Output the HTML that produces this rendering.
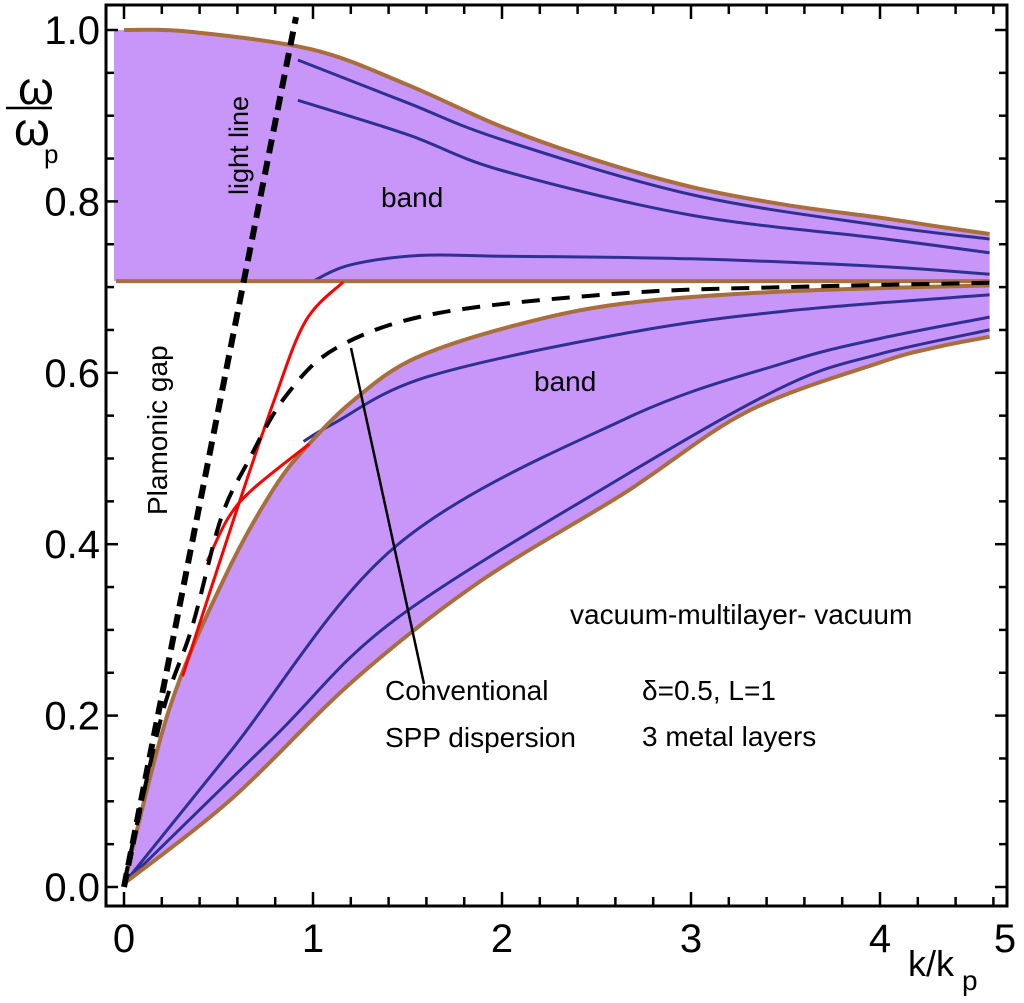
<!DOCTYPE html>
<html><head><meta charset="utf-8"><style>
html,body{margin:0;padding:0;background:#fff;}
svg text{font-family:"Liberation Sans",sans-serif;fill:#000;}
</style></head><body>
<svg id="chart" width="1024" height="998" viewBox="0 0 1024 998" xmlns="http://www.w3.org/2000/svg">
<g id="bands"></g>
<g id="lines"></g>
<g id="axes"></g>
<g>
<line x1="351" y1="348" x2="424" y2="684" stroke="#000" stroke-width="2.5"/>
<text x="381" y="207" font-size="28">band</text>
<text x="534" y="391" font-size="28">band</text>
<text transform="translate(248,195) rotate(-90)" font-size="27">light line</text>
<text transform="translate(167,515) rotate(-90)" font-size="28">Plamonic gap</text>
<text x="385" y="700" font-size="28">Conventional</text>
<text x="385" y="747" font-size="28">SPP dispersion</text>
<text x="570" y="624" font-size="28">vacuum-multilayer- vacuum</text>
<text x="642" y="700" font-size="28">δ=0.5, L=1</text>
<text x="642" y="746" font-size="28">3 metal layers</text>
<text x="18" y="104" font-size="46">ω</text>
<line x1="6" y1="108" x2="52" y2="108" stroke="#000" stroke-width="2.5"/>
<text x="14" y="145" font-size="46">ω</text>
<text x="44" y="163" font-size="26">p</text>
<text x="908" y="976" font-size="36">k/k</text>
<text x="962" y="990" font-size="28">p</text>
</g>
</svg>
<script>
const xTicks=[0,1,2,3,4,5];
const yTicks=[0.0,0.2,0.4,0.6,0.8,1.0];
const upperTopK=[0,0.35,1,1.5,2,2.5,3,3.5,4,4.3,4.58];
const upperTopW=[1.0,0.998,0.977,0.936,0.887,0.848,0.817,0.796,0.781,0.771,0.762];
const upperBottomW=0.707;
const upperLine1K=[0.92,1.5,2,3,4,4.58];
const upperLine1W=[0.965,0.915,0.872,0.808,0.772,0.756];
const upperLine2K=[0.92,1.5,2,3,4,4.58];
const upperLine2W=[0.918,0.878,0.836,0.784,0.757,0.740];
const upperLine3K=[1.0,1.2,1.57,2,3,4,4.58];
const upperLine3W=[0.707,0.726,0.737,0.736,0.733,0.724,0.715];
const lowerTopK=[0,0.24,0.53,0.79,0.98,1.22,1.54,2.08,2.65,3.5,4.58];
const lowerTopW=[0.004,0.208,0.36,0.464,0.517,0.569,0.617,0.656,0.681,0.695,0.702];
const lowerBotK=[0,0.57,1.22,1.88,2.65,3.3,4,4.3,4.58];
const lowerBotW=[0.004,0.103,0.242,0.356,0.46,0.555,0.612,0.630,0.642];
const lowerAK=[0.95,1.11,1.6,2.65,3.5,4.58];
const lowerAW=[0.52,0.541,0.595,0.646,0.672,0.691];
const lowerBK=[0,0.57,1.44,2.65,3.5,4,4.58];
const lowerBW=[0.004,0.16,0.398,0.546,0.612,0.640,0.665];
const lowerCK=[0,0.79,1.44,2.65,3.5,4,4.58];
const lowerCW=[0.004,0.174,0.313,0.48,0.585,0.622,0.650];
const red1K=[0.31,0.57,0.79,0.96,1.16];
const red1W=[0.246,0.422,0.565,0.66,0.706];
const red2K=[0.44,0.55,0.68,0.98];
const red2W=[0.38,0.43,0.464,0.517];
const sppK=[0,0.2,0.36,0.51,0.65,0.86,1.14,1.67,2.65,3.5,4.58];
const sppW=[0.004,0.2,0.303,0.428,0.494,0.574,0.631,0.67,0.693,0.7,0.705];
const lightK=[0,0.91];
const lightW=[0,1.015];

const X=k=>124+k*189;
const Y=w=>887-w*857;
const NS="http://www.w3.org/2000/svg";
function pts(K,W){return K.map((k,i)=>[X(k),Y(W[i])]);}
function spline(p){
  let d="M"+p[0][0].toFixed(1)+","+p[0][1].toFixed(1);
  for(let i=0;i<p.length-1;i++){
    const p0=p[i-1]||p[i],p1=p[i],p2=p[i+1],p3=p[i+2]||p2;
    const c1=[p1[0]+(p2[0]-p0[0])/6,p1[1]+(p2[1]-p0[1])/6];
    const c2=[p2[0]-(p3[0]-p1[0])/6,p2[1]-(p3[1]-p1[1])/6];
    d+=" C"+c1.map(v=>v.toFixed(1))+" "+c2.map(v=>v.toFixed(1))+" "+p2.map(v=>v.toFixed(1));
  }
  return d;
}
function mk(parent,tag,attrs){const e=document.createElementNS(NS,tag);for(const a in attrs)e.setAttribute(a,attrs[a]);parent.appendChild(e);return e;}
const bands=document.getElementById('bands'),lines=document.getElementById('lines'),axes=document.getElementById('axes');

const up=pts(upperTopK,upperTopW);
let dU=spline(up)+" L"+X(upperTopK[upperTopK.length-1])+","+Y(upperBottomW)+" L"+(X(0)-10)+","+Y(upperBottomW)+" L"+(X(0)-10)+","+Y(1.0)+" Z";
const ub=mk(bands,'path',{d:dU,fill:'#c896f8'});


const lt=pts(lowerTopK,lowerTopW), lb=pts(lowerBotK,lowerBotW);
let dL=spline(lt)+" L"+lb[lb.length-1].join(",")+" "+spline(lb.slice().reverse()).replace("M","L")+" Z";
const lbf=mk(bands,'path',{d:dL,fill:'#c896f8'});



function curve(K,W,color,width,name,dash){
  const e=mk(lines,'path',{d:spline(pts(K,W)),fill:'none',stroke:color,'stroke-width':width,'stroke-linecap':'butt'});
  if(dash)e.setAttribute('stroke-dasharray',dash);
  
  
}
curve(upperLine1K,upperLine1W,'#2e3192',3,'upper-mode-1');
curve(upperLine2K,upperLine2W,'#2e3192',3,'upper-mode-2');
curve(upperLine3K,upperLine3W,'#2e3192',3,'upper-mode-3');
curve(lowerAK,lowerAW,'#2e3192',3,'lower-mode-1');
curve(lowerBK,lowerBW,'#2e3192',3,'lower-mode-2');
curve(lowerCK,lowerCW,'#2e3192',3,'lower-mode-3');
curve(upperTopK,upperTopW,'#a86f3c',4,'upper-band-top-edge');
const be=mk(lines,'line',{x1:X(0)-8,y1:Y(upperBottomW),x2:X(4.58),y2:Y(upperBottomW),stroke:'#a86f3c','stroke-width':4});


curve(lowerTopK,lowerTopW,'#a86f3c',4,'lower-band-top-edge');
curve(lowerBotK,lowerBotW,'#a86f3c',4,'lower-band-bottom-edge');
curve(red1K,red1W,'#ff0000',3,'red-mode-1');
curve(red2K,red2W,'#ff0000',3,'red-mode-2');
curve(sppK,sppW,'#000',4,'spp-dispersion','18,12');
curve(lightK,lightW,'#000',6,'light-line','14,8');

const fr=mk(axes,'rect',{x:106,y:5,width:901,height:901,fill:'none',stroke:'#000','stroke-width':3});


for(let w=0;w<=1.051;w+=0.05){
  const y=Y(w),major=Math.abs(w*5-Math.round(w*5))<1e-6,L=major?12:8;
  const t1=mk(axes,'line',{x1:106,y1:y,x2:106+L,y2:y,stroke:'#000','stroke-width':2.5});
  
  
  const t2=mk(axes,'line',{x1:1007,y1:y,x2:1007-L,y2:y,stroke:'#000','stroke-width':2.5});
  
  
}
for(let k=0;k<=4.61;k+=0.2){
  const x=X(k),major=Math.abs(k-Math.round(k))<1e-6,L=major?14:9;
  const t1=mk(axes,'line',{x1:x,y1:906,x2:x,y2:906-L,stroke:'#000','stroke-width':2.5});
  
  
  const t2=mk(axes,'line',{x1:x,y1:5,x2:x,y2:5+L,stroke:'#000','stroke-width':2.5});
  
  
}
yTicks.forEach(w=>{
  const t=mk(axes,'text',{x:100,y:Y(w)+14,'font-size':40,'text-anchor':'end'});
  t.textContent=w.toFixed(1);
  
  
});
xTicks.forEach(k=>{
  const x=k===5?1005:X(k);
  const t=mk(axes,'text',{x:x,y:952,'font-size':40,'text-anchor':'middle'});
  t.textContent=k;
  
  
});
</script>
</body></html>
